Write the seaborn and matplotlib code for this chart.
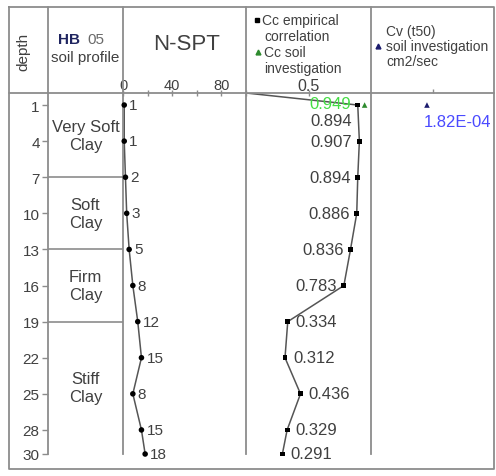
"""
Borehole HB 05 log: soil profile, N-SPT, Cc and Cv against depth.
Saves out.png (496 x 477 px).
"""

import matplotlib
matplotlib.use("Agg")  # no display, just write the file
import matplotlib.pyplot as plt
from matplotlib.lines import Line2D
import seaborn as sns

depth = [1, 4, 7, 10, 13, 16, 19, 22, 25, 28, 30]
n_spt = [1, 1, 2, 3, 5, 8, 12, 15, 8, 15, 18]
cc_empirical = [0.894, 0.907, 0.894, 0.886, 0.836, 0.783,
                0.334, 0.312, 0.436, 0.329, 0.291]
# the empirical Cc series starts from an empty (0, 0) cell in the sheet
cc_line_depth = [0] + depth
cc_line_values = [0] + cc_empirical
cc_soil_depth = [1]
cc_soil = [0.949]
cv_depth = [1]
cv_soil = [1.82e-4]

layer_names = ["Very Soft\nClay", "Soft\nClay", "Firm\nClay", "Stiff\nClay"]
layer_bounds = [0, 7, 13, 19, 30]
depth_ticks = [1, 4, 7, 10, 13, 16, 19, 22, 25, 28, 30]
spt_ticks = [0, 20, 40, 60, 80, 100]
spt_labels = ["0", "", "40", "", "80", ""]

# ---------- style ----------
sns.set_style("white")
plt.rcParams["font.family"] = ["Liberation Sans", "DejaVu Sans"]
TEXT = "#404040"
BORDER = "#8c8c8c"
LINE = "#555555"

W, H = 496, 477
fig = plt.figure(figsize=(W / 100, H / 100), dpi=100)


def fx(px):
    return px / W


def fy(py):
    return 1 - py / H


def column(x0, x1, top=94, bottom=455):
    return fig.add_axes([fx(x0), fy(bottom), (x1 - x0) / W, (bottom - top) / H])


def frame(ax):
    ax.set_ylim(30, 0)
    for side in ["top", "right", "bottom"]:
        ax.spines[side].set_visible(False)
    ax.spines["left"].set_color(BORDER)
    ax.spines["left"].set_linewidth(1.3)
    ax.set_xlabel("")
    ax.set_ylabel("")
    ax.patch.set_alpha(0)


# ---------- table lines ----------
def fig_line(xs, ys):
    fig.add_artist(Line2D([fx(x) for x in xs], [fy(y) for y in ys],
                          color=BORDER, lw=1.3))


fig_line([9, 494, 494, 9, 9], [8, 8, 470, 470, 8])
fig_line([9, 494], [94, 94])
for xc in [48, 123, 246, 371]:
    fig_line([xc, xc], [8, 94])

# ---------- depth + soil profile ----------
ax_soil = column(48, 123)
frame(ax_soil)
ax_soil.set_xlim(0, 1)
ax_soil.set_xticks([])
ax_soil.set_yticks(depth_ticks)
ax_soil.tick_params(axis="y", left=True, length=4, width=1, color=BORDER,
                    labelsize=11, labelcolor=TEXT, pad=2)
for b in layer_bounds[1:-1]:
    ax_soil.axhline(b, color=BORDER, lw=1.2)
for name, top, bot in zip(layer_names, layer_bounds[:-1], layer_bounds[1:]):
    ax_soil.text(0.5, (top + bot) / 2, name, ha="center", va="center",
                 fontsize=12, color=TEXT, linespacing=1.25)

# ---------- N-SPT ----------
ax_spt = column(123, 246)
sns.lineplot(x=n_spt, y=depth, sort=False, estimator=None, color=LINE,
             lw=1.1, ax=ax_spt)
sns.scatterplot(x=n_spt, y=depth, color="black", s=16, edgecolor="none",
                clip_on=False, zorder=5, ax=ax_spt)
frame(ax_spt)
ax_spt.set_xlim(0, 100)
ax_spt.set_yticks([])
ax_spt.xaxis.tick_top()
ax_spt.set_xticks(spt_ticks)
ax_spt.set_xticklabels(spt_labels)
ax_spt.tick_params(axis="x", top=True, direction="inout", length=4, width=1,
                   color=BORDER, labelsize=10.5, labelcolor=TEXT, pad=-1)
for n, d in zip(n_spt, depth):
    ax_spt.annotate(str(n), (n, d), xytext=(5, 0), textcoords="offset pixels",
                    ha="left", va="center", fontsize=11, color=TEXT)

# ---------- Cc ----------
ax_cc = column(246, 371)
sns.lineplot(x=cc_line_values, y=cc_line_depth, sort=False, estimator=None,
             color=LINE, lw=1.1, ax=ax_cc)
sns.scatterplot(x=cc_empirical, y=depth, color="black", marker="s", s=12,
                edgecolor="none", clip_on=False, zorder=5, ax=ax_cc)
sns.scatterplot(x=cc_soil, y=cc_soil_depth, color="#2e8b2e", marker="^", s=16,
                edgecolor="none", clip_on=False, zorder=6, ax=ax_cc)
frame(ax_cc)
ax_cc.set_xlim(0, 1)
ax_cc.set_yticks([])
ax_cc.xaxis.tick_top()
ax_cc.set_xticks([0.5])
ax_cc.set_xticklabels(["0.5"])
ax_cc.tick_params(axis="x", top=True, direction="inout", length=4, width=1,
                  color=BORDER, labelsize=11.5, labelcolor=TEXT, pad=-2)
for i, (c, d) in enumerate(zip(cc_empirical, depth)):
    if i == 0:
        off, ha = (-6, -15), "right"
    elif c > 0.5:
        off, ha = (-7, 0), "right"
    else:
        off, ha = (8, 0), "left"
    ax_cc.annotate(f"{c:.3f}", (c, d), xytext=off, textcoords="offset pixels",
                   ha=ha, va="center", fontsize=12, color=TEXT)
for c, d in zip(cc_soil, cc_soil_depth):
    ax_cc.annotate(f"{c:.3f}", (c, d), xytext=(-13, 2),
                   textcoords="offset pixels", ha="right", va="center",
                   fontsize=12, color="#44dd44")

# ---------- Cv ----------
ax_cv = column(371, 494)
sns.scatterplot(x=cv_soil, y=cv_depth, color="#1c1c6e", marker="^", s=16,
                edgecolor="none", clip_on=False, zorder=5, ax=ax_cv)
frame(ax_cv)
ax_cv.set_xlim(0, 4e-4)
ax_cv.set_yticks([])
ax_cv.xaxis.tick_top()
ax_cv.set_xticks([2e-4])
ax_cv.set_xticklabels([""])
ax_cv.tick_params(axis="x", top=True, direction="out", length=3, width=1,
                  color=BORDER)
for v, d in zip(cv_soil, cv_depth):
    ax_cv.annotate(f"{v:.2E}", (v, d), xytext=(-3, -16),
                   textcoords="offset pixels", ha="left", va="center",
                   fontsize=12, color="#4a4aff")

# ---------- header cells ----------
fig.text(fx(23), fy(52), "depth", rotation=90, ha="center", va="center",
         fontsize=11, color=TEXT)
fig.text(fx(58), fy(40), "HB", ha="left", va="center", fontsize=11,
         fontweight="bold", color="#1f2560")
fig.text(fx(87), fy(40), "05", ha="left", va="center", fontsize=11,
         color="#6a6a6a")
fig.text(fx(85), fy(58), "soil profile", ha="center", va="center",
         fontsize=11, color=TEXT)
fig.text(fx(187), fy(45), "N-SPT", ha="center", va="center", fontsize=16,
         color=TEXT)

fig.add_artist(Line2D([fx(257)], [fy(21)], marker="s", markersize=3.2,
                      color="black", lw=0))
fig.text(fx(262), fy(21), "Cc empirical", ha="left", va="center",
         fontsize=10, color=TEXT)
fig.text(fx(264), fy(37), "correlation", ha="left", va="center",
         fontsize=10, color=TEXT)
fig.add_artist(Line2D([fx(258)], [fy(53)], marker="^", markersize=3.5,
                      color="#2e8b2e", lw=0))
fig.text(fx(264), fy(53), "Cc soil", ha="left", va="center",
         fontsize=10, color=TEXT)
fig.text(fx(264), fy(69), "investigation", ha="left", va="center",
         fontsize=10, color=TEXT)

fig.text(fx(386), fy(32), "Cv (t50)", ha="left", va="center",
         fontsize=10, color=TEXT)
fig.add_artist(Line2D([fx(378)], [fy(47)], marker="^", markersize=3.5,
                      color="#1c1c6e", lw=0))
fig.text(fx(386), fy(47), "soil investigation", ha="left", va="center",
         fontsize=10, color=TEXT)
fig.text(fx(386), fy(62), "cm2/sec", ha="left", va="center",
         fontsize=10, color=TEXT)

fig.savefig("out.png", dpi=100)
plt.close(fig)
